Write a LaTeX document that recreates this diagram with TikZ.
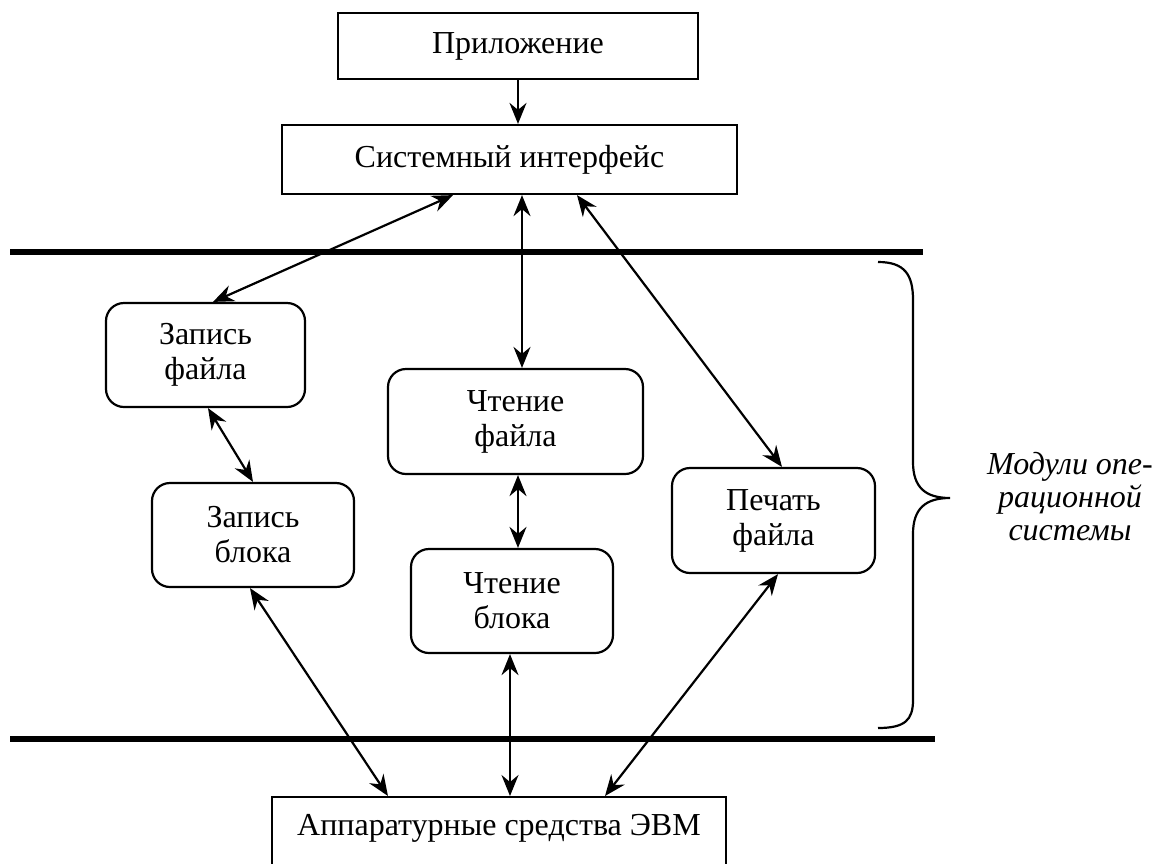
\documentclass[tikz,border=0pt]{standalone}
\usepackage{fontspec}
\setmainfont{Liberation Serif}
\usetikzlibrary{arrows.meta}
\begin{document}
\begin{tikzpicture}[x=1pt,y=-1pt,
  every node/.style={font=\fontsize{32}{35}\selectfont, align=center},
  plainbox/.style={draw, line width=2.2pt, rectangle, inner sep=0pt},
  modbox/.style={draw, line width=2.2pt, rectangle, rounded corners=18pt, inner sep=0pt},
  link/.style={line width=2.2pt, {Stealth[length=21pt,width=17pt,inset=7pt]}-{Stealth[length=21pt,width=17pt,inset=7pt]}},
  onelink/.style={line width=2.2pt, -{Stealth[length=21pt,width=17pt,inset=7pt]}},
  bar/.style={line width=6pt}]
\useasboundingbox (0,0) rectangle (1165,863);
\clip (0,0) rectangle (1165,863);

% user level
\node[plainbox, minimum width=360pt, minimum height=66pt] (app) at (518,46) {Приложение};
\node[plainbox, minimum width=455pt, minimum height=69pt] (sys) at (509.5,159.5) {Системный интерфейс};

% operating system modules
\node[modbox, minimum width=199pt, minimum height=104pt] (wf) at (205.5,355) {Запись\\файла};
\node[modbox, minimum width=202pt, minimum height=104pt] (wb) at (253,535) {Запись\\блока};
\node[modbox, minimum width=255pt, minimum height=105pt] (rf) at (515.5,421.5) {Чтение\\файла};
\node[modbox, minimum width=202pt, minimum height=104pt] (rb) at (512,601) {Чтение\\блока};
\node[modbox, minimum width=203pt, minimum height=105pt] (pf) at (773.5,520.5) {Печать\\файла};

% hardware
\node[plainbox, anchor=north, minimum width=454pt, text height=24pt, text depth=60pt, inner ysep=14pt] (hw) at (499,796) {Аппаратурные средства ЭВМ};

% layer boundaries
\coordinate (t1) at (10,252);
\coordinate (t2) at (923,252);
\coordinate (b1) at (10,738.5);
\coordinate (b2) at (935,738.5);
\draw[bar] (t1) -- (t2);
\draw[bar] (b1) -- (b2);

% connectors
\draw[onelink] (app.south) -- ([xshift=8.5pt]sys.north);
\draw[link] ([xshift=-56.5pt]sys.south) -- ([xshift=7.5pt]wf.north);
\draw[link] ([xshift=12.5pt]sys.south) -- ([xshift=6.5pt]rf.north);
\draw[link] ([xshift=67.5pt]sys.south) -- ([xshift=8.5pt]pf.north);
\draw[link] ([xshift=2.5pt]wf.south) -- (wb.north);
\draw[link] ([xshift=2.5pt]rf.south) -- ([xshift=6pt]rb.north);
\draw[link] ([xshift=-3pt]wb.south) -- ([xshift=-111pt]hw.north);
\draw[link] ([xshift=-2pt]rb.south) -- ([xshift=11pt]hw.north);
\draw[link] ([xshift=4.5pt]pf.south) -- ([xshift=106pt]hw.north);

% brace around the modules
\draw[line width=2.2pt] (878,262) .. controls (905,262) and (913,275) .. (913,300)
  -- (913,462) .. controls (913,487) and (925,498) .. (950,498)
  .. controls (925,498) and (913,509) .. (913,534)
  -- (913,700) .. controls (913,720) and (905,728) .. (878,728);
\node[font=\fontsize{32}{33}\selectfont\itshape, inner sep=0pt] (lbl) at (1070,497) {Модули опе-\\рационной\\системы};
\end{tikzpicture}
\end{document}
